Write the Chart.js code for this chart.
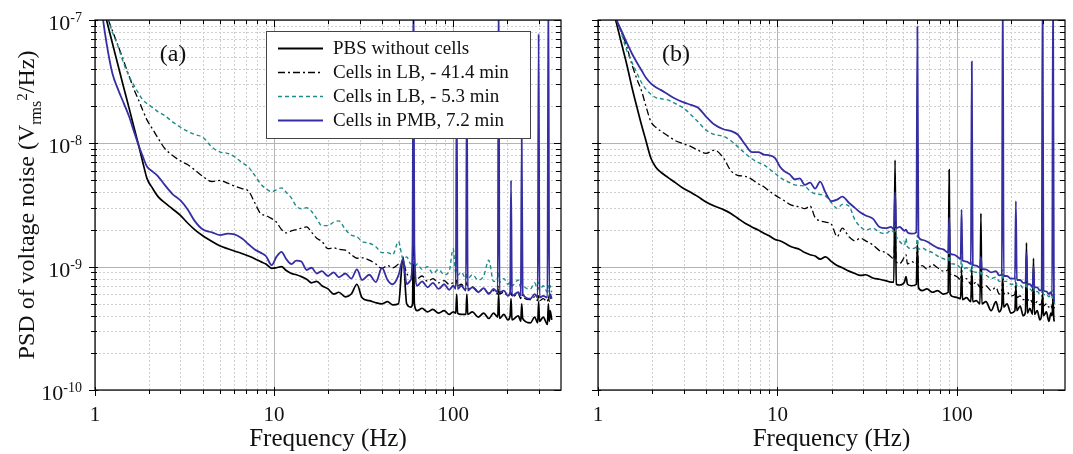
<!DOCTYPE html>
<html>
<head>
<meta charset="utf-8">
<script src="https://cdn.jsdelivr.net/npm/chart.js@4.4.1/dist/chart.umd.min.js"></script>
<style>
  html, body { margin:0; padding:0; background:#fff; }
  #wrap { position:relative; width:1073px; height:454px; background:#fff; overflow:hidden; }
  canvas { position:absolute; top:0; }
</style>
</head>
<body>
<div id="wrap">
  <canvas id="ca" width="573" height="454" style="left:0"></canvas>
  <canvas id="cb" width="500" height="454" style="left:573px"></canvas>
</div>
<script>
// ---------------- DATA ----------------
const seriesNames = ['PBS without cells', 'Cells in LB, - 41.4 min', 'Cells in LB, - 5.3 min', 'Cells in PMB, 7.2 min'];
const panelLabels = ['(a)', '(b)'];
const xTickValues = [1, 10, 100];
const xTickLabels = ['1', '10', '100'];
const xMinorTicks = [2,3,4,5,6,7,8,9,20,30,40,50,60,70,80,90,200,300];
const yTickValues = [1e-10, 1e-9, 1e-8, 1e-7];
const yTickExponents = ['-10', '-9', '-8', '-7'];
const yMinorTicks = [2e-10,3e-10,4e-10,5e-10,6e-10,7e-10,8e-10,9e-10,2e-9,3e-9,4e-9,5e-9,6e-9,7e-9,8e-9,9e-9,2e-8,3e-8,4e-8,5e-8,6e-8,7e-8,8e-8,9e-8];

// Panel (a) frequencies (Hz)
const freqA = [1.05,1.1,1.16,1.25,1.35,1.45,1.55,1.65,1.75,1.85,
 1.95,2.1,2.25,2.45,2.7,3.0,3.3,3.6,4.0,4.5,
 5.0,5.5,6.0,6.6,7.2,7.8,8.4,9.0,9.7,10.3,
 11,11.7,12.5,13.3,14.2,15.2,16.2,17.3,18.5,20,
 21.5,23,25,27,29,31,34,37,40,43,
 46,49.5,52.5,55,58,59.3,60,60.7,63,67,
 72,77,83,89,95,100,103.4,104.6,105.8,111,
 117.8,119.2,120.6,128,138,148,158,168,177.4,179.4,
 181.4,192,202,208,210.4,213,231,238.5,241.4,244.3,
 270,285,296.5,300,303.5,318,336,340,344,348,
 355];
const psdA_PBS = [1.76e-7,1.35e-7,1.0e-7,6.5e-8,4.2e-8,2.8e-8,1.93e-8,1.35e-8,9.7e-9,7.0e-9,
 5.2e-9,4.3e-9,3.7e-9,3.3e-9,2.95e-9,2.6e-9,2.25e-9,2.0e-9,1.78e-9,1.6e-9,
 1.47e-9,1.4e-9,1.34e-9,1.28e-9,1.22e-9,1.16e-9,1.1e-9,1.05e-9,9.7e-10,9.8e-10,
 1.0e-9,9.3e-10,8.8e-10,8.6e-10,8.3e-10,7.9e-10,7.4e-10,7.6e-10,7.0e-10,6.6e-10,
 6.0e-10,6.2e-10,5.7e-10,6.0e-10,7.2e-10,5.6e-10,5.3e-10,5.1e-10,5.0e-10,5.2e-10,
 4.9e-10,5.0e-10,1.2e-9,5.0e-10,4.7e-10,5.0e-10,2.0e-9,5.0e-10,4.4e-10,4.6e-10,
 4.3e-10,4.5e-10,4.2e-10,4.4e-10,4.1e-10,4.3e-10,4.2e-10,6.0e-10,4.2e-10,4.1e-10,
 4.1e-10,6.0e-10,4.1e-10,4.3e-10,3.9e-10,4.2e-10,3.8e-10,4.2e-10,3.9e-10,6.0e-10,
 3.8e-10,4.1e-10,3.7e-10,4.0e-10,5.5e-10,3.7e-10,4.0e-10,3.6e-10,5.0e-10,3.8e-10,
 3.5e-10,3.9e-10,3.5e-10,5.2e-10,3.6e-10,3.9e-10,3.4e-10,5.0e-10,3.6e-10,4.4e-10,
 3.7e-10];
const psdA_LB41 = [1.7e-7,1.4e-7,1.1e-7,8.2e-8,6.1e-8,4.6e-8,3.5e-8,2.75e-8,2.25e-8,1.85e-8,
 1.55e-8,1.3e-8,1.1e-8,9.1e-9,8.0e-9,7.2e-9,6.7e-9,6.1e-9,5.4e-9,4.9e-9,
 5.0e-9,4.75e-9,4.5e-9,4.3e-9,4.1e-9,3.3e-9,2.7e-9,2.6e-9,2.45e-9,2.3e-9,
 2.0e-9,1.88e-9,1.95e-9,2.0e-9,2.05e-9,2.1e-9,1.9e-9,1.7e-9,1.6e-9,1.4e-9,
 1.42e-9,1.38e-9,1.36e-9,1.25e-9,1.17e-9,1.18e-9,1.13e-9,1.05e-9,9.7e-10,1.02e-9,
 9.8e-10,1.05e-9,1.1e-9,8.8e-10,8.3e-10,8.5e-10,9.0e-10,8.2e-10,8.0e-10,8.4e-10,
 7.6e-10,8.0e-10,7.4e-10,7.7e-10,7.2e-10,7.4e-10,7.0e-10,8.0e-10,7.0e-10,7.2e-10,
 6.6e-10,7.5e-10,6.6e-10,6.9e-10,6.3e-10,6.6e-10,6.1e-10,6.4e-10,6.0e-10,7.0e-10,
 6.0e-10,6.2e-10,5.8e-10,6.0e-10,6.2e-10,5.7e-10,6.0e-10,5.5e-10,6.0e-10,5.7e-10,
 5.4e-10,5.7e-10,5.3e-10,6.0e-10,5.3e-10,5.5e-10,5.2e-10,5.8e-10,5.2e-10,5.6e-10,
 5.3e-10];
const psdA_LB5 = [1.7e-7,1.4e-7,1.1e-7,8.0e-8,6.0e-8,4.4e-8,3.5e-8,2.95e-8,2.55e-8,2.25e-8,
 2.1e-8,1.95e-8,1.8e-8,1.68e-8,1.5e-8,1.35e-8,1.25e-8,1.18e-8,1.12e-8,9.3e-9,
 8.5e-9,8.3e-9,7.8e-9,7.0e-9,6.4e-9,5.5e-9,4.7e-9,4.3e-9,4.05e-9,4.2e-9,
 4.35e-9,4.0e-9,3.6e-9,3.1e-9,2.95e-9,3.0e-9,2.8e-9,2.45e-9,2.15e-9,2.15e-9,
 2.3e-9,2.35e-9,2.0e-9,1.8e-9,1.75e-9,1.6e-9,1.55e-9,1.45e-9,1.3e-9,1.3e-9,
 1.25e-9,1.6e-9,1.15e-9,1.2e-9,1.05e-9,1.1e-9,1.2e-9,1.0e-9,1.05e-9,9.5e-10,
 1.0e-9,8.8e-10,9.5e-10,8.6e-10,9.2e-10,1.4e-9,8.8e-10,9.5e-10,8.5e-10,9.0e-10,
 8.0e-10,9.0e-10,8.0e-10,8.6e-10,7.8e-10,8.4e-10,1.13e-9,7.6e-10,8.2e-10,9.0e-10,
 7.5e-10,8.0e-10,7.2e-10,7.6e-10,8.0e-10,7.0e-10,7.8e-10,6.8e-10,8.0e-10,7.2e-10,
 6.6e-10,7.4e-10,6.5e-10,7.5e-10,6.4e-10,7.0e-10,6.2e-10,7.0e-10,6.2e-10,7.0e-10,
 6.2e-10];
const psdA_PMB = [2.0e-7,1.1e-7,6.5e-8,3.7e-8,2.7e-8,2.1e-8,1.65e-8,1.25e-8,9.7e-9,7.8e-9,
 6.5e-9,5.9e-9,5.4e-9,4.6e-9,3.9e-9,3.45e-9,2.9e-9,2.35e-9,2.0e-9,1.9e-9,
 1.8e-9,1.85e-9,1.83e-9,1.7e-9,1.52e-9,1.38e-9,1.3e-9,1.22e-9,1.03e-9,1.2e-9,
 1.32e-9,1.15e-9,1.05e-9,1.12e-9,1.1e-9,9.4e-10,9.8e-10,8.8e-10,9.2e-10,8.4e-10,
 9.0e-10,8.2e-10,8.8e-10,8.0e-10,9.5e-10,7.8e-10,8.6e-10,7.5e-10,9.8e-10,7.8e-10,
 7.2e-10,8.5e-10,1.15e-9,7.2e-10,7.8e-10,1.5e-9,2.0e-7,1.5e-9,7.0e-10,7.6e-10,
 6.8e-10,7.4e-10,6.6e-10,7.2e-10,6.5e-10,7.0e-10,6.6e-10,3.0e-8,6.6e-10,7.0e-10,
 6.4e-10,3.0e-8,6.4e-10,6.8e-10,6.2e-10,6.7e-10,6.0e-10,6.6e-10,6.2e-10,2.0e-7,
 6.2e-10,6.4e-10,5.8e-10,6.2e-10,5.0e-9,5.8e-10,6.2e-10,5.8e-10,1.1e-8,6.0e-10,
 5.5e-10,6.0e-10,5.6e-10,7.7e-8,5.6e-10,5.8e-10,5.6e-10,2.0e-7,5.6e-10,6.0e-10,
 5.5e-10];

// Panel (b) frequencies (Hz)
const freqB = [1.15,1.2,1.27,1.35,1.45,1.55,1.65,1.75,1.85,1.97,
 2.1,2.25,2.45,2.7,3.0,3.3,3.6,4.0,4.45,5.0,
 5.5,6.0,6.6,7.2,7.8,8.4,9.0,9.7,10.3,11,
 11.7,12.5,13.3,14.2,15.2,16.2,17.3,18.5,20,21.5,
 23,25,27,29,31,34,37,40,43,44.5,
 45.2,45.9,48,51,52,53,56,59.4,60.2,61.0,
 64,68,73,78,84,89.4,90.5,91.6,96,101,
 104.8,106.1,107.4,113,119.5,121,122.5,128,134.4,136,
 137.6,145,155,165,172,177.8,180,182.2,190,200,
 210.4,213,215.6,225,234,241,244,247,255,263.8,
 267,270.2,280,290,296.4,300,303.6,315,325,334,
 339,343,347,350];
const psdB_PBS = [1.68e-7,1.3e-7,9.3e-8,6.5e-8,4.3e-8,2.8e-8,1.95e-8,1.4e-8,1.05e-8,7.6e-9,
 6.4e-9,5.8e-9,5.3e-9,4.8e-9,4.3e-9,4.0e-9,3.7e-9,3.35e-9,3.1e-9,2.9e-9,
 2.7e-9,2.47e-9,2.25e-9,2.1e-9,1.98e-9,1.87e-9,1.78e-9,1.66e-9,1.62e-9,1.55e-9,
 1.47e-9,1.42e-9,1.38e-9,1.3e-9,1.25e-9,1.22e-9,1.15e-9,1.2e-9,1.1e-9,1.02e-9,
 9.8e-10,9.2e-10,8.8e-10,8.5e-10,8.6e-10,8.1e-10,7.9e-10,7.7e-10,7.5e-10,7.5e-10,
 7.3e-9,7.2e-10,7.1e-10,7.5e-10,8.3e-10,7.2e-10,7.0e-10,7.2e-10,1.5e-9,6.8e-10,
 6.4e-10,6.6e-10,6.2e-10,6.4e-10,6.0e-10,6.2e-10,6.1e-9,6.0e-10,5.7e-10,5.6e-10,
 5.5e-10,9.0e-10,5.4e-10,5.6e-10,5.2e-10,9.0e-10,5.2e-10,5.3e-10,5.0e-10,2.7e-9,
 5.0e-10,5.2e-10,4.4e-10,5.2e-10,4.3e-10,4.8e-10,8.0e-10,4.7e-10,5.0e-10,4.2e-10,
 4.4e-10,7.0e-10,4.4e-10,4.8e-10,4.0e-10,4.3e-10,1.56e-9,4.2e-10,4.6e-10,4.1e-10,
 1.17e-9,4.1e-10,4.4e-10,3.7e-10,4.1e-10,6.0e-10,4.0e-10,4.3e-10,3.6e-10,4.2e-10,
 4.0e-10,5.5e-10,3.7e-10,3.6e-10];
const psdB_LB41 = [1.6e-7,1.3e-7,1.0e-7,8.0e-8,6.0e-8,4.3e-8,3.3e-8,2.65e-8,2.0e-8,1.5e-8,
 1.35e-8,1.25e-8,1.15e-8,1.05e-8,9.9e-9,9.4e-9,8.8e-9,8.3e-9,8.8e-9,7.6e-9,
 6.0e-9,5.5e-9,5.4e-9,5.1e-9,4.7e-9,4.45e-9,4.1e-9,3.8e-9,3.6e-9,3.4e-9,
 3.2e-9,3.1e-9,3.05e-9,2.95e-9,3.1e-9,2.5e-9,2.35e-9,2.3e-9,2.2e-9,1.75e-9,
 2.05e-9,1.75e-9,1.62e-9,1.7e-9,1.62e-9,1.5e-9,1.35e-9,1.3e-9,1.2e-9,1.15e-9,
 2.0e-9,1.1e-9,1.06e-9,1.2e-9,1.25e-9,1.05e-9,1.1e-9,1.05e-9,1.5e-9,9.8e-10,
 1.02e-9,9.6e-10,1.04e-9,9.8e-10,9.2e-10,9.5e-10,1.5e-9,8.8e-10,8.5e-10,8.2e-10,
 7.8e-10,1.0e-9,7.6e-10,8.0e-10,7.2e-10,1.0e-9,7.2e-10,7.5e-10,6.8e-10,1.1e-9,
 6.8e-10,7.0e-10,6.4e-10,6.8e-10,6.0e-10,6.4e-10,9.0e-10,6.0e-10,6.2e-10,5.8e-10,
 6.0e-10,7.5e-10,5.6e-10,5.8e-10,5.4e-10,5.6e-10,8.0e-10,5.3e-10,5.5e-10,5.1e-10,
 7.0e-10,5.0e-10,5.2e-10,4.9e-10,5.1e-10,6.5e-10,4.8e-10,5.0e-10,4.7e-10,4.9e-10,
 4.6e-10,6.0e-10,4.6e-10,4.7e-10];
const psdB_LB5 = [1.6e-7,1.3e-7,1.0e-7,7.8e-8,5.6e-8,4.5e-8,3.7e-8,3.1e-8,2.75e-8,2.5e-8,
 2.35e-8,2.3e-8,2.25e-8,2.1e-8,1.93e-8,1.7e-8,1.5e-8,1.28e-8,1.18e-8,1.14e-8,
 1.05e-8,9.4e-9,8.3e-9,7.5e-9,7.0e-9,6.7e-9,6.2e-9,5.7e-9,5.3e-9,5.0e-9,
 4.8e-9,4.6e-9,4.55e-9,4.5e-9,4.1e-9,3.9e-9,3.85e-9,3.75e-9,3.3e-9,2.97e-9,
 3.2e-9,3.1e-9,2.4e-9,2.1e-9,1.98e-9,2.05e-9,1.9e-9,1.85e-9,1.98e-9,1.9e-9,
 2.2e-9,1.8e-9,1.6e-9,1.5e-9,1.7e-9,1.45e-9,1.4e-9,1.45e-9,1.8e-9,1.38e-9,
 1.42e-9,1.35e-9,1.3e-9,1.22e-9,1.16e-9,1.12e-9,1.6e-9,1.08e-9,1.05e-9,1.03e-9,
 9.8e-10,1.2e-9,9.6e-10,9.8e-10,9.2e-10,1.1e-9,9.2e-10,9.0e-10,8.6e-10,1.0e-9,
 8.6e-10,8.5e-10,8.0e-10,8.2e-10,7.6e-10,7.8e-10,9.5e-10,7.6e-10,7.6e-10,7.2e-10,
 7.3e-10,8.5e-10,7.0e-10,7.1e-10,6.7e-10,6.8e-10,8.0e-10,6.6e-10,6.6e-10,6.3e-10,
 7.2e-10,6.2e-10,6.3e-10,6.0e-10,6.1e-10,7.0e-10,5.9e-10,6.0e-10,5.7e-10,5.9e-10,
 5.6e-10,6.5e-10,5.5e-10,5.0e-10];
const psdB_PMB = [1.6e-7,1.3e-7,1.0e-7,8.2e-8,6.5e-8,5.3e-8,4.5e-8,3.9e-8,3.4e-8,3.06e-8,
 2.85e-8,2.7e-8,2.5e-8,2.3e-8,2.15e-8,2.05e-8,1.95e-8,1.65e-8,1.42e-8,1.3e-8,
 1.26e-8,1.18e-8,9.8e-9,8.5e-9,8.5e-9,8.1e-9,8.0e-9,7.6e-9,6.5e-9,5.9e-9,
 5.6e-9,5.1e-9,5.2e-9,4.6e-9,4.8e-9,4.3e-9,4.9e-9,4.0e-9,3.4e-9,3.5e-9,
 3.7e-9,3.3e-9,3.0e-9,2.75e-9,2.6e-9,2.45e-9,2.1e-9,2.05e-9,2.1e-9,2.0e-9,
 4.0e-9,2.05e-9,2.1e-9,1.95e-9,2.0e-9,1.9e-9,1.85e-9,1.9e-9,8.8e-8,1.75e-9,
 1.65e-9,1.6e-9,1.5e-9,1.42e-9,1.38e-9,1.3e-9,2.5e-9,1.28e-9,1.25e-9,1.2e-9,
 1.15e-9,2.9e-9,1.12e-9,1.1e-9,1.05e-9,4.6e-8,1.04e-9,1.02e-9,9.8e-10,1.2e-9,
 9.6e-10,9.5e-10,9.0e-10,9.2e-10,8.5e-10,8.6e-10,2.0e-7,8.4e-10,8.4e-10,8.0e-10,
 8.0e-10,3.4e-9,7.8e-10,7.8e-10,7.4e-10,7.4e-10,1.3e-9,7.2e-10,7.2e-10,6.8e-10,
 1.0e-9,6.8e-10,6.8e-10,6.4e-10,6.6e-10,2.0e-7,6.4e-10,6.3e-10,6.0e-10,6.2e-10,
 5.8e-10,2.0e-7,5.6e-10,5.2e-10];

// ---------------- STYLE ----------------
const FONT = '"Liberation Serif", "Times New Roman", serif';
const seriesStyles = [
  { color:'#000000', width:1.7, dash:[],           order:3 },
  { color:'#000000', width:1.3, dash:[7,3,2,3],    order:2 },
  { color:'#1e8b8b', width:1.4, dash:[4,3],        order:1 },
  { color:'#352ea3', width:1.8, dash:[],           order:0 },
];

function makeDatasets(freq, arrays) {
  return arrays.map((arr, i) => ({
    label: seriesNames[i],
    data: freq.map((f, k) => ({ x: f, y: arr[k] })),
    borderColor: seriesStyles[i].color,
    borderWidth: seriesStyles[i].width,
    borderDash: seriesStyles[i].dash,
    order: seriesStyles[i].order,
    pointRadius: 0,
    fill: false,
    cubicInterpolationMode: 'monotone',
  }));
}

function seg(ctx, x1, y1, x2, y2) { ctx.beginPath(); ctx.moveTo(x1, y1); ctx.lineTo(x2, y2); ctx.stroke(); }

function makePlugin(cfg) {
  return {
    id: 'psdDecor' + cfg.label,
    beforeDatasetsDraw(chart) {
      const { ctx, chartArea: a, scales: { x, y } } = chart;
      ctx.save();
      ctx.lineWidth = 1;
      ctx.strokeStyle = '#cfcfcf';
      ctx.setLineDash([2, 2]);
      xMinorTicks.forEach(v => { const p = Math.round(x.getPixelForValue(v)) + 0.5; seg(ctx, p, a.top, p, a.bottom); });
      yMinorTicks.forEach(v => { const p = Math.round(y.getPixelForValue(v)) + 0.5; seg(ctx, a.left, p, a.right, p); });
      ctx.setLineDash([]);
      ctx.strokeStyle = '#b4b4b4';
      xTickValues.forEach(v => { const p = Math.round(x.getPixelForValue(v)) + 0.5; seg(ctx, p, a.top, p, a.bottom); });
      yTickValues.forEach(v => { const p = Math.round(y.getPixelForValue(v)) + 0.5; seg(ctx, a.left, p, a.right, p); });
      ctx.restore();
    },
    afterDatasetsDraw(chart) {
      const { ctx, chartArea: a, scales: { x, y } } = chart;
      ctx.save();
      ctx.strokeStyle = '#000'; ctx.lineWidth = 1.2; ctx.setLineDash([]);
      ctx.strokeRect(a.left, a.top, a.right - a.left, a.bottom - a.top);
      ctx.lineWidth = 1;
      xTickValues.forEach(v => {
        const p = Math.round(x.getPixelForValue(v)) + 0.5;
        seg(ctx, p, a.bottom - 3, p, a.bottom + 6);
        seg(ctx, p, a.top, p, a.top + 7);
      });
      xMinorTicks.forEach(v => {
        const p = Math.round(x.getPixelForValue(v)) + 0.5;
        seg(ctx, p, a.bottom, p, a.bottom + 4);
        seg(ctx, p, a.top, p, a.top + 4);
      });
      yTickValues.forEach(v => {
        const p = Math.round(y.getPixelForValue(v)) + 0.5;
        seg(ctx, a.left - 6, p, a.left + 3, p);
        seg(ctx, a.right - 7, p, a.right, p);
      });
      yMinorTicks.forEach(v => {
        const p = Math.round(y.getPixelForValue(v)) + 0.5;
        seg(ctx, a.left - 4, p, a.left + 2, p);
        seg(ctx, a.right - 5, p, a.right, p);
      });

      ctx.fillStyle = '#111';
      ctx.font = '21px ' + FONT; ctx.textAlign = 'center'; ctx.textBaseline = 'alphabetic';
      xTickValues.forEach((v, i) => ctx.fillText(xTickLabels[i], x.getPixelForValue(v), 421));
      ctx.font = '25px ' + FONT;
      ctx.fillText('Frequency (Hz)', (a.left + a.right) / 2, 446);

      ctx.font = '24px ' + FONT; ctx.textBaseline = 'middle';
      ctx.fillText(cfg.label, a.left + cfg.labelDx, 55);

      if (cfg.yLabels) {
        ctx.textBaseline = 'alphabetic'; ctx.textAlign = 'left';
        yTickValues.forEach((v, i) => {
          const p = y.getPixelForValue(v);
          ctx.font = '14px ' + FONT;
          const sw = ctx.measureText(yTickExponents[i]).width;
          ctx.font = '22px ' + FONT;
          const bw = ctx.measureText('10').width;
          const right = a.left - 13;
          ctx.fillText('10', right - sw - bw, p + 10);
          ctx.font = '14px ' + FONT;
          ctx.fillText(yTickExponents[i], right - sw, p + 2);
        });
        ctx.save();
        ctx.translate(34, (a.top + a.bottom) / 2);
        ctx.rotate(-Math.PI / 2);
        const parts = [
          { t: 'PSD of voltage noise (V', f: 24, dy: 0 },
          { t: 'rms', f: 16, dy: 7 },
          { t: '2', f: 15, dy: -7 },
          { t: '/Hz)', f: 24, dy: 0 },
        ];
        let total = 0;
        parts.forEach(pt => { ctx.font = pt.f + 'px ' + FONT; pt.w = ctx.measureText(pt.t).width; total += pt.w; });
        let cx = -total / 2;
        parts.forEach(pt => { ctx.font = pt.f + 'px ' + FONT; ctx.fillText(pt.t, cx, pt.dy); cx += pt.w; });
        ctx.restore();
      }

      if (cfg.legend) {
        const bx = 266, by = 31, bw = 264, bh = 107;
        ctx.fillStyle = '#fff';
        ctx.fillRect(bx, by, bw, bh);
        ctx.strokeStyle = '#444'; ctx.lineWidth = 1;
        ctx.strokeRect(bx + 0.5, by + 0.5, bw, bh);
        const rows = [48.5, 72.5, 96.5, 120.5];
        ctx.font = '19px ' + FONT; ctx.textAlign = 'left'; ctx.textBaseline = 'middle';
        seriesNames.forEach((name, i) => {
          const st = seriesStyles[i];
          ctx.strokeStyle = st.color; ctx.lineWidth = st.width + 0.2; ctx.setLineDash(st.dash);
          seg(ctx, 278, rows[i], 323, rows[i]);
          ctx.setLineDash([]);
          ctx.fillStyle = '#111';
          ctx.fillText(name, 333, rows[i] + 1);
        });
      }
      ctx.restore();
    }
  };
}

function makeChart(id, freq, arrays, cfg) {
  return new Chart(document.getElementById(id), {
    type: 'line',
    data: { datasets: makeDatasets(freq, arrays) },
    options: {
      responsive: false,
      animation: false,
      events: [],
      layout: { padding: { top: 20, right: cfg.padRight, left: 0, bottom: 0 } },
      plugins: { legend: { display: false }, tooltip: { enabled: false } },
      scales: {
        x: {
          type: 'logarithmic', min: 1, max: 400,
          ticks: { display: false }, grid: { display: false }, border: { display: false },
          afterFit: s => { s.height = 64; }
        },
        y: {
          type: 'logarithmic', min: 1e-10, max: 1e-7,
          ticks: { display: false }, grid: { display: false }, border: { display: false },
          afterFit: s => { s.width = cfg.yWidth; }
        }
      }
    },
    plugins: [makePlugin(cfg)]
  });
}

makeChart('ca', freqA, [psdA_PBS, psdA_LB41, psdA_LB5, psdA_PMB],
  { label: panelLabels[0], labelDx: 78, yLabels: true, legend: true, padRight: 12, yWidth: 95 });
makeChart('cb', freqB, [psdB_PBS, psdB_LB41, psdB_LB5, psdB_PMB],
  { label: panelLabels[1], labelDx: 78, yLabels: false, legend: false, padRight: 8, yWidth: 25 });
</script>
</body>
</html>
